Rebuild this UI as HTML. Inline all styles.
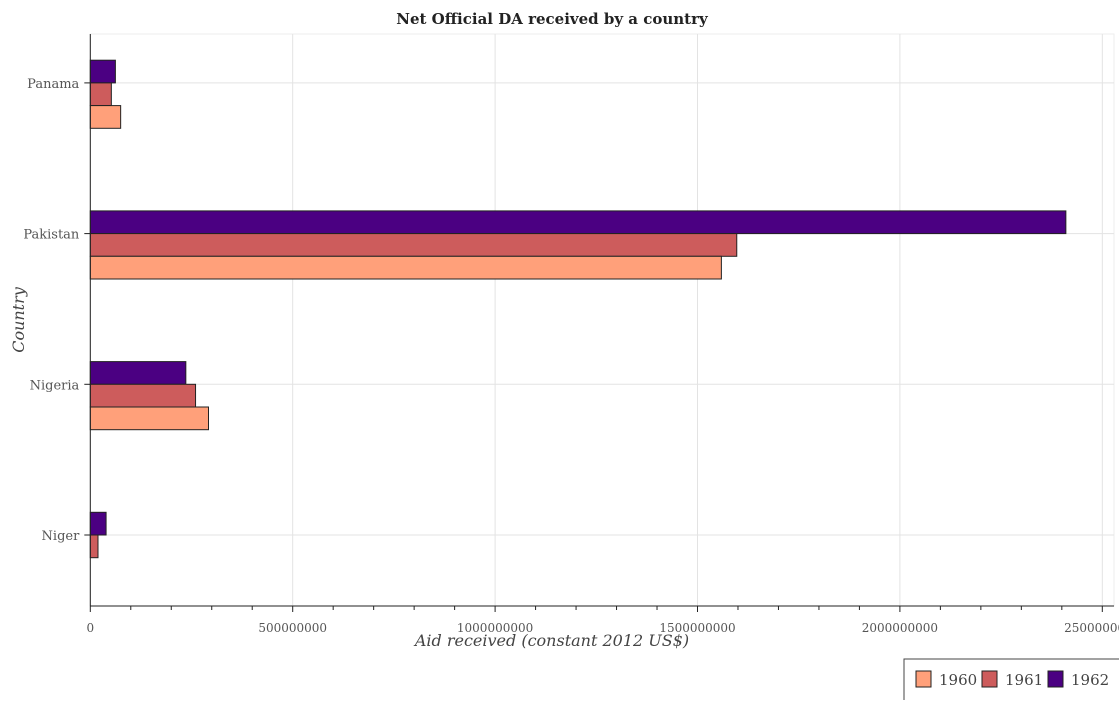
<!DOCTYPE html>
<html><head><meta charset="utf-8"><style>
body{margin:0;background:#fff;}
text{font-family:"DejaVu Serif","Liberation Serif",serif;}
</style></head><body>
<svg id="c" width="1119" height="700" xmlns="http://www.w3.org/2000/svg">
<text x="552" y="24" text-anchor="middle" font-size="15" font-weight="bold" fill="#222">Net Official DA received by a country</text>
<text x="552" y="646" text-anchor="middle" font-size="16" font-style="italic" fill="#444">Aid received (constant 2012 US$)</text>
<text transform="translate(24,320) rotate(-90)" text-anchor="middle" font-size="16" font-style="italic" fill="#444">Country</text>
<g id="grid"></g><g id="bars"></g><g id="axes"></g>
<g>
<rect x="904" y="659" width="220" height="42" fill="#fff" stroke="#444" stroke-width="1"/>
<rect x="916" y="671" width="15" height="16" fill="#FFA07A" stroke="#222"/><text x="939" y="685" font-size="15" fill="#444">1960</text>
<rect x="982" y="671" width="15" height="16" fill="#CD5C5C" stroke="#222"/><text x="1005" y="685" font-size="15" fill="#444">1961</text>
<rect x="1048" y="671" width="15" height="16" fill="#4B0082" stroke="#222"/><text x="1071" y="685" font-size="15" fill="#444">1962</text>
</g>
</svg>
<script>
const categories=["Niger","Nigeria","Pakistan","Panama"];
const s1960=[0,292e6,1559e6,75e6];
const s1961=[19e6,260e6,1597e6,52e6];
const s1962=[39e6,236e6,2410e6,62e6];
const xTicks=[0,5e8,1e9,1.5e9,2e9,2.5e9];
const xTickLabels=["0","500000000","1000000000","1500000000","2000000000","2500000000"];
const NS="http://www.w3.org/2000/svg";
const L=90.3,R=1114,T=34,B=606;
const x=v=>L+v*(202.4/5e8);
const yc=i=>535-i*150.7;
function mk(p,t,a){const e=document.createElementNS(NS,t);for(const k in a)e.setAttribute(k,a[k]);document.getElementById(p).appendChild(e);return e;}
const g=document.getElementById('grid');
mk('grid','rect',{x:L,y:T,width:R-L,height:B-T,fill:'#fff',stroke:'#eee'});
xTicks.forEach((v,i)=>{const l=mk('grid','line',{x1:x(v),x2:x(v),y1:T,y2:B,stroke:'#e3e3e3'});


const t=mk('axes','text',{x:x(v),y:B+26,'text-anchor':'middle','font-size':'12',fill:'#555'});t.textContent=xTickLabels[i];


mk('axes','line',{x1:x(v),x2:x(v),y1:B,y2:B+6,stroke:'#222'});});
for(let v=1e8;v<2.55e9;v+=1e8){if(Math.round(v/1e8)%5)mk('axes','line',{x1:x(v),x2:x(v),y1:B,y2:B+4,stroke:'#222'});}
categories.forEach((c,i)=>{mk('grid','line',{x1:L,x2:R,y1:yc(i),y2:yc(i),stroke:'#e3e3e3'});
const t=mk('axes','text',{x:L-11,y:yc(i)+5,'text-anchor':'end','font-size':'13',fill:'#555'});t.textContent=c;


mk('axes','line',{x1:L-6,x2:L,y1:yc(i),y2:yc(i),stroke:'#222'});});
const h=22.7;
const series=[[s1962,'#4B0082',-1],[s1961,'#CD5C5C',0],[s1960,'#FFA07A',1]];
series.forEach(([d,col,o])=>{d.forEach((v,i)=>{if(v<=0)return;const r=mk('bars','rect',{x:L,y:yc(i)+o*h,width:x(v)-L,height:h,fill:col,stroke:'#222','stroke-width':1});

});});
mk('axes','line',{x1:L,x2:L,y1:T,y2:B,stroke:'#222'});
mk('axes','line',{x1:L,x2:R,y1:B,y2:B,stroke:'#222'});
</script>
</body></html>
